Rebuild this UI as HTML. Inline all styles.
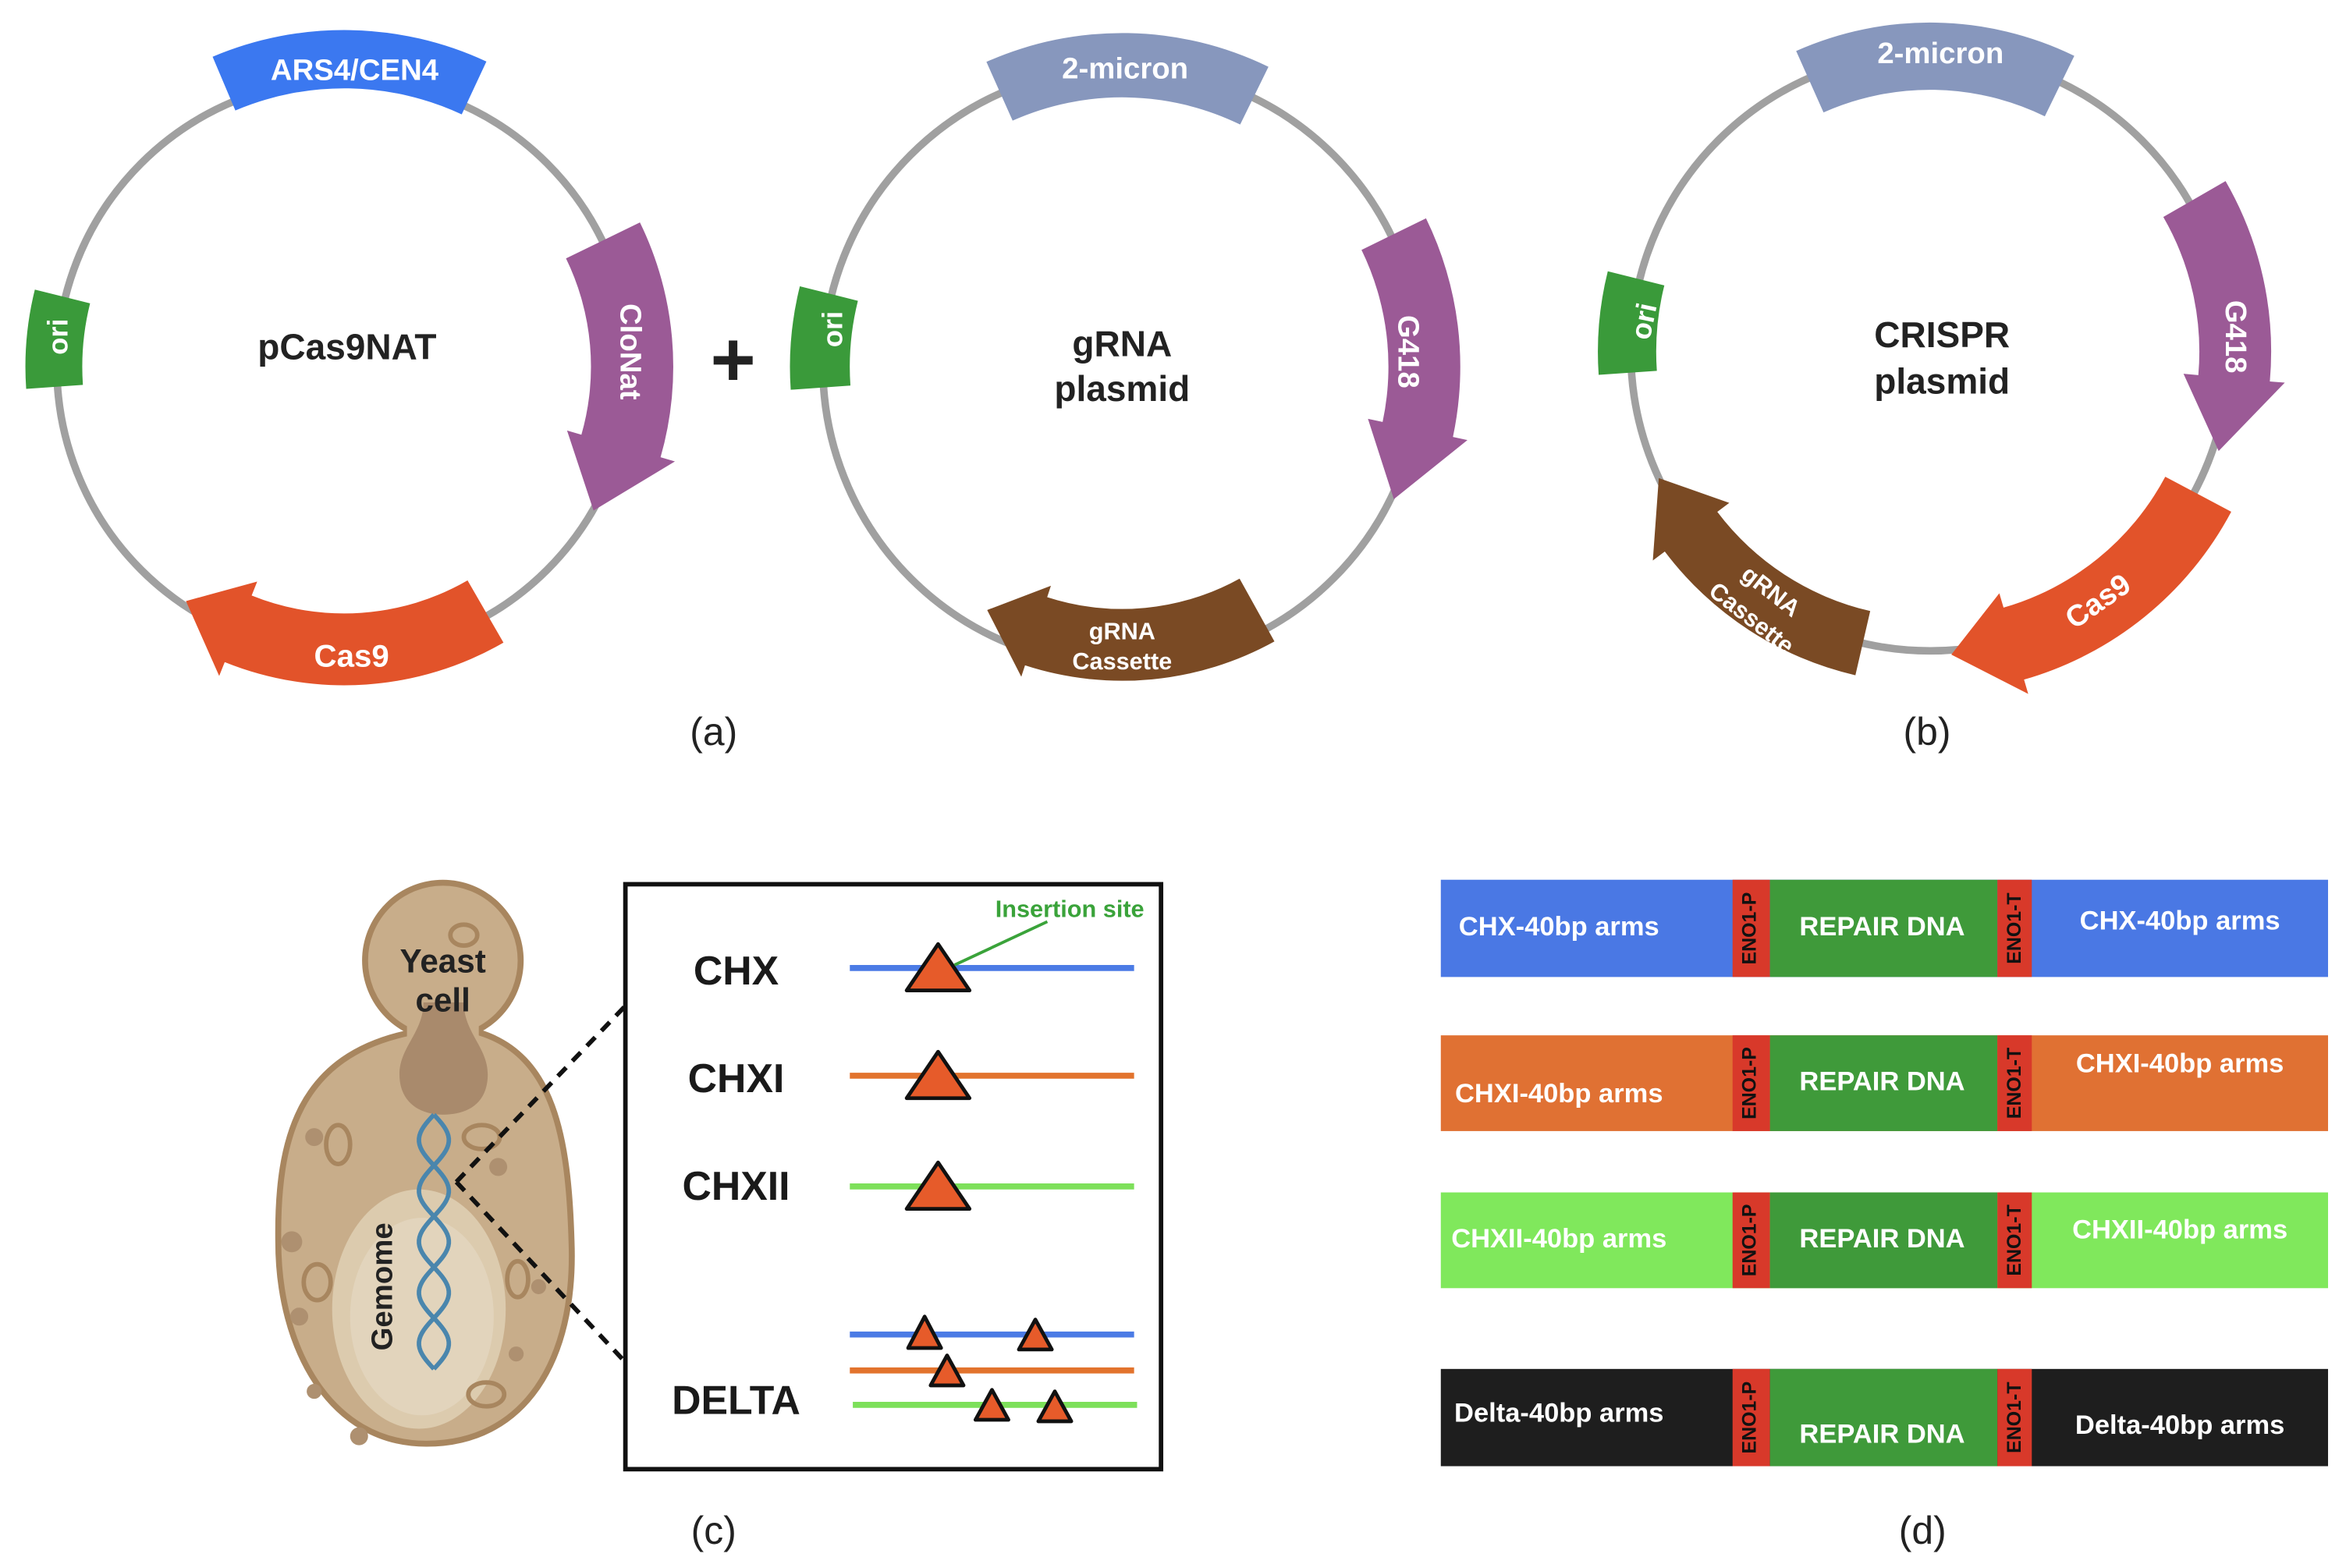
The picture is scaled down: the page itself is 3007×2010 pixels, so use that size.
<!DOCTYPE html>
<html><head><meta charset="utf-8"><style>
html,body{margin:0;padding:0;background:#fff;}
svg{display:block;}
text{font-family:"Liberation Sans",Arial,sans-serif;}
</style></head><body>
<svg id="s" width="3007" height="2010" viewBox="0 0 1568 1048" xmlns="http://www.w3.org/2000/svg">
<rect width="1568" height="1048" fill="#fff"/>
<circle cx="230" cy="245" r="192" fill="none" stroke="#a0a0a0" stroke-width="5"/>
<circle cx="750" cy="245" r="200" fill="none" stroke="#a0a0a0" stroke-width="5"/>
<circle cx="1290" cy="235" r="200" fill="none" stroke="#a0a0a0" stroke-width="5"/>
<g id="feat"></g>
<text x="232" y="240" font-size="24" font-weight="bold" text-anchor="middle" fill="#222">pCas9NAT</text>
<text x="490" y="258" font-size="52" font-weight="bold" text-anchor="middle" fill="#222">+</text>
<text x="750" y="238" font-size="24" font-weight="bold" text-anchor="middle" fill="#222">gRNA</text>
<text x="750" y="268" font-size="24" font-weight="bold" text-anchor="middle" fill="#222">plasmid</text>
<text x="1298" y="232" font-size="24" font-weight="bold" text-anchor="middle" fill="#222">CRISPR</text>
<text x="1298" y="263" font-size="24" font-weight="bold" text-anchor="middle" fill="#222">plasmid</text>
<text x="477" y="498" font-size="26" text-anchor="middle" fill="#222">(a)</text>
<text x="1288" y="498" font-size="26" text-anchor="middle" fill="#222">(b)</text>
<text x="477" y="1032" font-size="26" text-anchor="middle" fill="#222">(c)</text>
<text x="1285" y="1032" font-size="26" text-anchor="middle" fill="#222">(d)</text>

<g>
<circle cx="296" cy="642" r="52" fill="#c8ad8a" stroke="#a8865f" stroke-width="4"/>
<path d="M275,690 C200,705 185,760 186,830 C186,900 220,965 285,965 C350,965 385,910 382,830 C380,760 370,705 320,690 Z" fill="#c8ad8a" stroke="#a8865f" stroke-width="4"/>
<rect x="272" y="680" width="48" height="20" fill="#c8ad8a"/>
<path d="M283,670 C283,690 267,700 267,718 C267,738 282,745 296,745 C312,745 326,738 326,718 C326,700 310,690 310,670 Z" fill="#a98a6c"/>
<ellipse cx="280" cy="875" rx="58" ry="80" fill="#dccbae"/>
<ellipse cx="282" cy="880" rx="48" ry="66" fill="#e2d4bc"/>
<g fill="#ae9070">
<circle cx="210" cy="760" r="6"/><circle cx="195" cy="830" r="7"/><circle cx="200" cy="880" r="6"/><circle cx="240" cy="960" r="6"/><circle cx="345" cy="905" r="5"/><circle cx="333" cy="780" r="6"/><circle cx="210" cy="930" r="5"/><circle cx="360" cy="860" r="5"/>
</g>
<g fill="none" stroke="#a8865f" stroke-width="3">
<ellipse cx="226" cy="765" rx="8" ry="13"/><ellipse cx="322" cy="760" rx="12" ry="8"/><ellipse cx="212" cy="857" rx="9" ry="12"/><ellipse cx="346" cy="855" rx="7" ry="12"/><ellipse cx="325" cy="932" rx="12" ry="8"/><ellipse cx="310" cy="625" rx="9" ry="7"/>
</g>
<path id="h1" d="" fill="none" stroke="#4a86ad" stroke-width="3"/>
<path id="h2" d="" fill="none" stroke="#4a86ad" stroke-width="3"/>
<text x="296" y="650" font-size="22" font-weight="bold" text-anchor="middle" fill="#222">Yeast</text>
<text x="296" y="676" font-size="22" font-weight="bold" text-anchor="middle" fill="#222">cell</text>
<text transform="translate(262,860) rotate(-90)" font-size="20" font-weight="bold" text-anchor="middle" fill="#222">Gemome</text>
</g>
<line x1="305" y1="790" x2="425" y2="665" stroke="#111" stroke-width="3" stroke-dasharray="8,6"/>
<line x1="305" y1="790" x2="425" y2="918" stroke="#111" stroke-width="3" stroke-dasharray="8,6"/>
<rect x="418" y="591" width="358" height="391" fill="#fff" stroke="#111" stroke-width="3"/>
<g font-size="27" font-weight="bold" text-anchor="middle" fill="#1a1a1a">
<text x="492" y="658">CHX</text><text x="492" y="730">CHXI</text><text x="492" y="802">CHXII</text><text x="492" y="945">DELTA</text>
</g>
<g stroke-width="4">
<line x1="568" y1="647" x2="758" y2="647" stroke="#4b7be5"/>
<line x1="568" y1="719" x2="758" y2="719" stroke="#e2732d"/>
<line x1="568" y1="793" x2="758" y2="793" stroke="#7de05a"/>
<line x1="568" y1="892" x2="758" y2="892" stroke="#4b7be5"/>
<line x1="568" y1="916" x2="758" y2="916" stroke="#e2732d"/>
<line x1="570" y1="939" x2="760" y2="939" stroke="#7de05a"/>
</g>
<g fill="#e65b2a" stroke="#111" stroke-width="2.5" stroke-linejoin="round">
<polygon points="627,631 606,662 648,662"/>
<polygon points="627,703 606,734 648,734"/>
<polygon points="627,777 606,808 648,808"/>
<polygon points="618,880 607,901 629,901"/>
<polygon points="692,882 681,902 703,902"/>
<polygon points="633,906 622,926 644,926"/>
<polygon points="663,929 652,949 674,949"/>
<polygon points="705,930 694,950 716,950"/>
</g>
<line x1="638" y1="645" x2="700" y2="616" stroke="#3aa33a" stroke-width="2"/>
<text x="715" y="613" font-size="16" font-weight="bold" text-anchor="middle" fill="#3aa33a">Insertion site</text>
<g id="bars"></g>
</svg>
<script>
var NS="http://www.w3.org/2000/svg";
function el(p,t,a,txt){var e=document.createElementNS(NS,t);for(var k in a)e.setAttribute(k,a[k]);if(txt!==undefined)e.textContent=txt;p.appendChild(e);return e;}
function pt(cx,cy,a,r){var t=a*Math.PI/180;return [cx+r*Math.sin(t),cy-r*Math.cos(t)];}
var F=document.getElementById('feat');
function feat(cx,cy,r1,r2,a1,a2,col,dir,L,e){
 var d="";L=L||12;e=e||8;var rm=(r1+r2)/2;
 var b1=a1,b2=a2;
 if(dir==1)b2=a2-L; if(dir==-1)b1=a1+L;
 var p=function(a,r){var q=pt(cx,cy,a,r);return q[0].toFixed(1)+","+q[1].toFixed(1);};
 var big=(b2-b1)>180?1:0;
 d="M"+p(b1,r2)+" A"+r2+","+r2+" 0 "+big+" 1 "+p(b2,r2);
 if(dir==1){d+=" L"+p(b2,r2+e)+" L"+p(a2,rm)+" L"+p(b2,r1-e);}
 d+=" L"+p(b2,r1)+" A"+r1+","+r1+" 0 "+big+" 0 "+p(b1,r1);
 if(dir==-1){d+=" L"+p(b1,r1-e)+" L"+p(a1,rm)+" L"+p(b1,r2+e);}
 d+=" Z";
 el(F,'path',{d:d,fill:col});
}
function lab(x,y,rot,txt,fs){el(F,'text',{transform:"translate("+x+","+y+") rotate("+rot+")","font-size":fs||20,"font-weight":"bold","text-anchor":"middle",fill:"#fff","dominant-baseline":"middle"},txt);}
feat(230,245,186,225,-23,25,"#3b78f0",0);
lab(237,48,0,"ARS4/CEN4",20);
feat(230,245,165,220,64,120,"#9b5a96",1,14,10);
lab(420,235,90,"CloNat",20);
feat(230,245,165,213,150,214,"#e2532a",1,12,10);
lab(235,440,0,"Cas9",21);
feat(230,245,175,213,266,284,"#3a9a3a",0);
lab(40,225,-90,"ori",19);
feat(750,245,180,223,-24,26,"#8797bd",0);
lab(752,47,0,"2-micron",20);
feat(750,245,178,226,64,116,"#9b5a96",1,14,10);
lab(940,235,90,"G418",20);
feat(750,245,162,210,151,209,"#7a4a24",1,11,8);
lab(750,423,0,"gRNA",16);lab(750,443,0,"Cassette",16);
feat(750,245,182,222,266,284,"#3a9a3a",0);
lab(558,220,-90,"ori",19);
feat(1290,235,175,220,-24,26,"#8797bd",0);
lab(1297,37,0,"2-micron",20);
feat(1290,235,180,228,60,109,"#9b5a96",1,14,10);
lab(1493,225,90,"G418",20);
feat(1290,235,178,228,118,176,"#e2532a",1,12,10);
lab(1403,403,-35,"Cas9",20);
feat(1290,235,178,222,193,245,"#7a4a24",1,12,10);
lab(1183,396,38,"gRNA",16);lab(1170,414,38,"Cassette",16);
feat(1290,235,183,222,266,284,"#3a9a3a",0);
lab(1100,215,-78,"ori",19);
var h1="",h2="";for(var y=745;y<=915;y+=2){var x=10*Math.sin((y-745)/170*Math.PI*5);h1+=(y==745?"M":"L")+(290+x)+","+y+" ";h2+=(y==745?"M":"L")+(290-x)+","+y+" ";}
document.getElementById('h1').setAttribute('d',h1);document.getElementById('h2').setAttribute('d',h2);
var B=document.getElementById('bars');
var rows=[[588,653,"#4a78e4","CHX-40bp arms","CHX-40bp arms",0,-4],[692,756,"#e07133","CHXI-40bp arms","CHXI-40bp arms",8,-12],[797,861,"#80e85c","CHXII-40bp arms","CHXII-40bp arms",0,-6],[915,980,"#1e1e1e","Delta-40bp arms","Delta-40bp arms",-2,6]];
rows.forEach(function(r,i){var y=r[0],h=r[1]-r[0],cy=y+h/2;
 el(B,'rect',{x:963,y:y,width:593,height:h,fill:r[2]});
 el(B,'rect',{x:1158,y:y,width:25,height:h,fill:"#d8392a"});
 el(B,'rect',{x:1183,y:y,width:152,height:h,fill:"#3f9a3a"});
 el(B,'rect',{x:1335,y:y,width:23,height:h,fill:"#d8392a"});
 var a={"font-size":18,"font-weight":"bold","text-anchor":"middle",fill:"#fff","dominant-baseline":"middle"};
 a.x=1042;a.y=cy+r[5];el(B,'text',a,r[3]);
 a.x=1457;a.y=cy+r[6];el(B,'text',a,r[4]);
 a.x=1258;a.y=cy+(i==3?12:0);el(B,'text',a,"REPAIR DNA");
 el(B,'text',{transform:"translate(1170,"+cy+") rotate(-90)","font-size":13,"font-weight":"bold","text-anchor":"middle","dominant-baseline":"middle",fill:"#111"},"ENO1-P");
 el(B,'text',{transform:"translate(1347,"+cy+") rotate(-90)","font-size":13,"font-weight":"bold","text-anchor":"middle","dominant-baseline":"middle",fill:"#111"},"ENO1-T");
});
</script>
</body></html>
